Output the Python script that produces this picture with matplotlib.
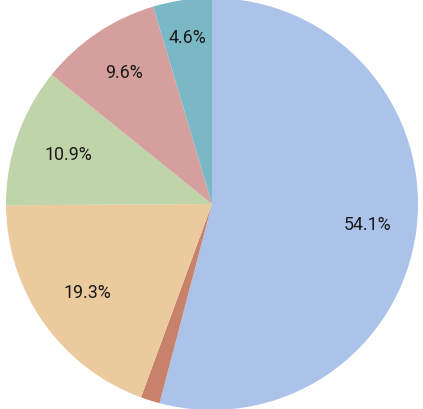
import numpy as np
import matplotlib.pyplot as plt

# slice values (percent), clockwise from 12 o'clock
values = [54.1, 1.5, 19.3, 10.9, 9.6, 4.6]
labels = ['54.1%', '', '19.3%', '10.9%', '9.6%', '4.6%']
colors = ['#abc3e9', '#c8826b', '#ebca9e', '#c0d4a9', '#d59f9e', '#7bb8c5']
label_dist = [0.76, 0.7, 0.74, 0.74, 0.77, 0.82]

plt.rcParams['font.family'] = ['Roboto', 'DejaVu Sans']

fig = plt.figure(figsize=(4.23, 4.10), dpi=100)
ax = fig.add_axes([6 / 423, -1 / 410, 412 / 423, 412 / 410])

wedges, _ = ax.pie(values, colors=colors, startangle=90, counterclock=False,
                   radius=1.0, wedgeprops={'linewidth': 0})

# put the percentage labels inside each wedge
for w, lab, d in zip(wedges, labels, label_dist):
    if not lab:
        continue
    ang = np.deg2rad((w.theta1 + w.theta2) / 2)
    ax.text(d * np.cos(ang), d * np.sin(ang), lab, ha='center', va='center',
            fontsize=12.8, color='#1a1a1a')

ax.set_xlim(-1, 1)
ax.set_ylim(-1, 1)
ax.set_aspect('equal')
ax.axis('off')

fig.savefig('out.png', dpi=100)
